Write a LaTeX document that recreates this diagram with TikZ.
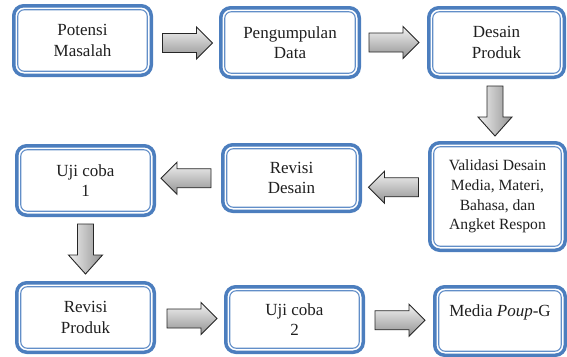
\documentclass[tikz,border=0pt]{standalone}
\usepackage{fontspec}
\setmainfont{Liberation Serif}
\usetikzlibrary{calc}
\definecolor{boxblue}{RGB}{76,126,190}
\definecolor{innerblue}{RGB}{98,142,200}
\tikzset{
  stage/.style={draw=boxblue, line width=3.5pt, rounded corners=10pt, fill=white,
    align=center, inner sep=0pt, outer sep=0pt, text=black!88,
    font=\fontsize{17}{20.5}\selectfont,
    path picture={\draw[innerblue, line width=1.1pt, rounded corners=6.5pt]
      ([shift={(4pt,4pt)}]path picture bounding box.south west) rectangle
      ([shift={(-4pt,-4pt)}]path picture bounding box.north east);}},
  smalltext/.style={font=\fontsize{15.6}{19.7}\selectfont},
  arrowbody/.style={draw=black!85, line width=0.9pt, line join=miter},
  rarrow/.pic={\path[arrowbody, top color=gray!10, bottom color=gray!85]
    (-25,-9.5) -- (9,-9.5) -- (9,-16) -- (25,0) -- (9,16) -- (9,9.5) -- (-25,9.5) -- cycle;},
  larrow/.pic={\path[arrowbody, top color=gray!10, bottom color=gray!85]
    (25,-9.5) -- (-9,-9.5) -- (-9,-16) -- (-25,0) -- (-9,16) -- (-9,9.5) -- (25,9.5) -- cycle;},
  darrow/.pic={\path[arrowbody, left color=gray!12, right color=gray!85]
    (-8,-25) -- (-8,6) -- (-17,6) -- (0,25) -- (17,6) -- (8,6) -- (8,-25) -- cycle;}
}
\begin{document}
\begin{tikzpicture}[x=1pt,y=-1pt]
\useasboundingbox (0,0) rectangle (567,356);
% row 1
\node[stage, minimum width=137.5pt, minimum height=69.5pt] (pm) at (82.5,40.5) {Potensi\\Masalah};
\node[stage, minimum width=138.5pt, minimum height=69.5pt] (pd) at (290,42.5) {Pengumpulan\\Data};
\node[stage, minimum width=135.5pt, minimum height=69.5pt] (dp) at (496.5,42.5) {Desain\\Produk};
% row 2
\node[stage, smalltext, minimum width=135.5pt, minimum height=107.5pt] (vd) at (497.5,196.5) {Validasi Desain\\Media, Materi,\\Bahasa, dan\\Angket Respon};
\node[stage, minimum width=137.5pt, minimum height=66.5pt] (rd) at (291.5,178) {Revisi\\Desain};
\node[stage, minimum width=137.5pt, minimum height=69.5pt] (u1) at (85.5,180.5) {Uji coba\\1};
% row 3
\node[stage, minimum width=137.5pt, minimum height=69.5pt] (rp) at (85.5,317.5) {Revisi\\Produk};
\node[stage, minimum width=137.5pt, minimum height=65.5pt] (u2) at (294.5,319.5) {Uji coba\\2};
\node[stage, minimum width=130.5pt, minimum height=68.5pt] (mp) at (500,321) {Media \textit{Poup}-G\\\mbox{}};
% arrows
\pic at ($(pm.east)!0.5!(pd.west)+(1.5,1.5)$) {rarrow};
\pic at ($(pd.east)!0.5!(dp.west)+(0,0)$) {rarrow};
\pic at ($(dp.south)!0.5!(vd.north)+(-2,1)$) {darrow};
\pic at ($(vd.west)!0.5!(rd.east)+(-1.5,0)$) {larrow};
\pic at ($(rd.west)!0.5!(u1.east)+(-2.5,-1)$) {larrow};
\pic at ($(u1.south)!0.5!(rp.north)+(0,0)$) {darrow};
\pic at ($(rp.east)!0.5!(u2.west)+(2,0)$) {rarrow};
\pic at ($(u2.east)!0.5!(mp.west)+(1,0)$) {rarrow};
\end{tikzpicture}
\end{document}
